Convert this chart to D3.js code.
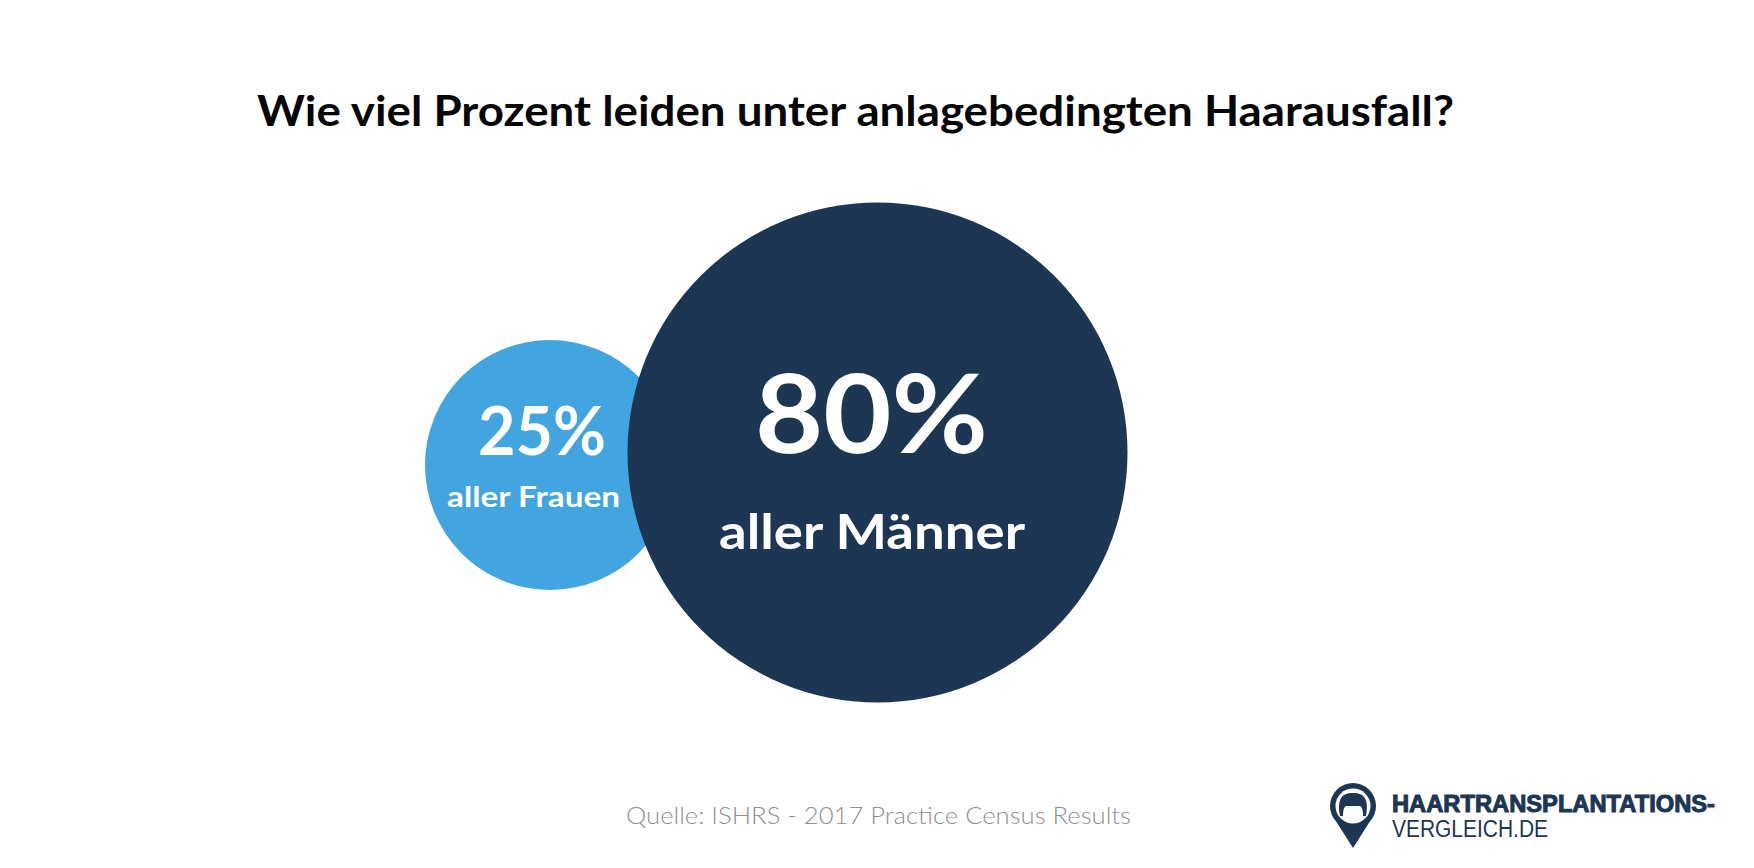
<!DOCTYPE html>
<html>
<head>
<meta charset="utf-8">
<script src="https://cdn.jsdelivr.net/npm/d3@7"></script>
<style>
  html, body { margin: 0; background: #fff; }
  text { font-family: Lato, sans-serif; }
</style>
</head>
<body>
<svg id="chart" width="1754" height="868"></svg>
<script>
const categories = ['aller Frauen', 'aller Männer'];
const percents = [25, 80];
const percentLabels = ['25%', '80%'];
const colors = ['#42a5e0', '#1d3653'];

const svg = d3.select('#chart');

// radius is not proportional in the original, so just fit both ends
const radius = d3.scaleLinear().domain([25, 80]).range([125, 250]);
const cx = d3.scaleOrdinal().domain(categories).range([550, 877.5]);
const cy = d3.scaleOrdinal().domain(categories).range([465, 452.5]);

const bubbles = categories.map((c, i) => ({ c, v: percents[i], label: percentLabels[i], color: colors[i] }));

// text helper, width is forced so the labels sit where they do in the picture
function label(x, y, txt, size, width, weight, fill, family) {
  return svg.append('text')
    .attr('x', x).attr('y', y)
    .attr('textLength', width)
    .attr('lengthAdjust', 'spacingAndGlyphs')
    .style('font-size', size + 'px')
    .style('font-weight', weight)
    .style('font-family', family || null)
    .style('fill', fill)
    .text(txt);
}

label(257, 126, 'Wie viel Prozent leiden unter anlagebedingten Haarausfall?', 42, 1197, 700, '#050505');

svg.selectAll('circle.bubble')
  .data(bubbles)
  .enter()
  .append('circle')
  .attr('class', 'bubble')
  .attr('cx', d => cx(d.c))
  .attr('cy', d => cy(d.c))
  .attr('r', d => radius(d.v))
  .style('fill', d => d.color);

label(478, 455, percentLabels[0], 66, 128, 700, '#fff');
label(447, 507, categories[0], 29, 173, 700, '#fff');
label(755, 453, percentLabels[1], 110, 233, 700, '#fff');
label(719, 549, categories[1], 48, 306, 700, '#fff');

label(626, 824, 'Quelle: ISHRS - 2017 Practice Census Results', 24, 505, 300, '#8f8f8f');

// logo
const logo = svg.append('g').attr('transform', 'translate(1353,806)');
logo.append('path')
  .attr('d', 'M-16.5,16 A23,23 0 1 1 16.5,16 L0,42 Z')
  .style('fill', '#1d3653');
logo.append('circle').attr('r', 17.5).style('fill', '#fff');
logo.append('path')
  .attr('d', 'M-13,10 C-16,-6 -12,-13 0,-13 C12,-13 16,-6 13,10 L10,10 C10,4 9,1 7,0 L-7,0 C-9,1 -10,4 -10,10 Z')
  .style('fill', '#1d3653');

label(1392, 812, 'HAARTRANSPLANTATIONS-', 23, 323, 700, '#1d3653', '"Liberation Sans"')
  .style('stroke', '#1d3653').style('stroke-width', 1);
label(1392, 837, 'VERGLEICH.DE', 23, 156, 400, '#1d3653', '"Liberation Sans"');
</script>
</body>
</html>
